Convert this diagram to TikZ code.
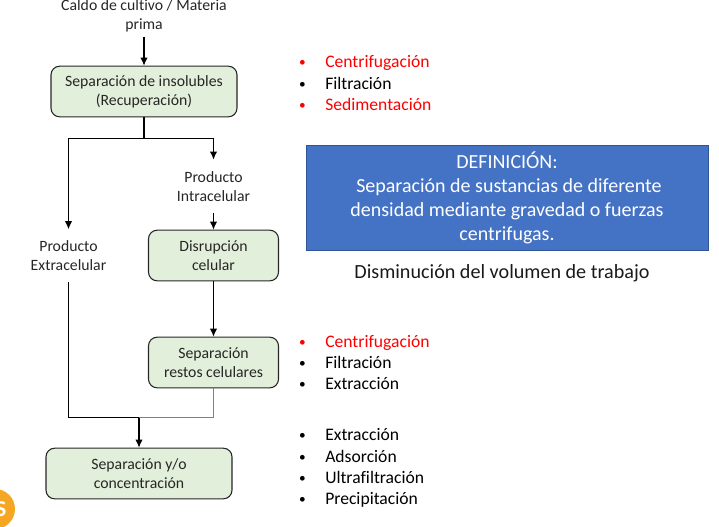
\documentclass[tikz,border=0pt]{standalone}
\usepackage{fontspec}
\setmainfont[Ligatures=CommonOff]{Carlito}
\usetikzlibrary{arrows.meta}
\definecolor{boxgreen}{HTML}{E2EFDA}
\definecolor{defblue}{HTML}{4472C4}
\definecolor{defedge}{HTML}{2F5597}
\definecolor{logoorange}{HTML}{F5A623}
\tikzset{
	stepbox/.style={draw=black!85, fill=boxgreen, rounded corners=6.5pt, line width=0.8pt, align=center, text=black!85, font=\fontsize{11.8}{14.2}\selectfont},
	plain/.style={align=center, text=black!85, font=\fontsize{11.8}{14.2}\selectfont},
	item/.style={anchor=base west, inner sep=0pt, font=\fontsize{13.2}{14}\selectfont},
	dot/.style={anchor=base, inner sep=0pt, font=\fontsize{10}{14}\selectfont},
	link/.style={draw, line width=0.8pt},
	flow/.style={link, -{Latex[length=6pt,width=5.5pt]}},
}
\begin{document}
\begin{tikzpicture}[x=0.75pt, y=-0.75pt]
	\useasboundingbox (0, 0) rectangle (719, 526);
	\clip (0, 0) rectangle (719, 526);
	% flow on the left
	\node[plain] (caldo) at (144, 16) {Caldo de cultivo / Materia\\prima};
	\node[stepbox, minimum width=139.5pt, minimum height=38pt] (insol) at (144, 91.5) {Separación de insolubles\\(Recuperación)};
	\node[plain, minimum height=40pt] (intra) at (213.5, 186.5) {Producto\\Intracelular};
	\node[plain, minimum height=39pt] (extra) at (68.5, 255.5) {Producto\\Extracelular};
	\node[stepbox, minimum width=97.5pt, minimum height=38pt] (disrup) at (213.5, 255.5) {Disrupción\\celular};
	\node[stepbox, minimum width=97.5pt, minimum height=38pt] (restos) at (213.5, 362.5) {Separación\\restos celulares};
	\node[stepbox, minimum width=139.5pt, minimum height=38pt] (conc) at (139, 473.5) {Separación y/o\\concentración};
	\coordinate (fork) at (144, 138.5);
	\coordinate (join) at (139, 417.5);
	\draw[flow] (caldo) -- (insol);
	\draw[link] (insol) -- (fork);
	\draw[flow] (fork) -| (intra);
	\draw[flow] (fork) -| (extra);
	\draw[flow] (intra) -- (disrup);
	\draw[flow] (disrup) -- (restos);
	\draw[link] (extra) |- (join);
	\draw[link, draw=black!50] (restos) |- (join);
	\draw[flow] (join) -- (conc);
	% lists
	\foreach \y/\name/\col in {67/Centrifugación/red, 89/Filtración/black, 110/Sedimentación/red, 347/Centrifugación/red, 368/Filtración/black, 389/Extracción/black, 440/Extracción/black, 462/Adsorción/black, 483/Ultrafiltración/black, 504/Precipitación/black} {
		\node[dot, text=\col] (dot\y) at (302.5, \y-1) {•};
		\node[item, text=\col] (item\y) at (325, \y) {\name};
	}
	% definition
	\node[draw=defedge, fill=defblue, text=white, minimum width=301.5pt, minimum height=78.5pt, align=center, font=\fontsize{15}{18}\selectfont] (defin) at (507, 197.5) {DEFINICIÓN:\\\hspace*{3pt}Separación de sustancias de diferente\\densidad mediante gravedad o fuerzas\\centrifugas.};
	\node[text=black!90, font=\fontsize{15.1}{16}\selectfont] (vol) at (502, 273) {Disminución del volumen de trabajo};
	% logo
	\node[circle, fill=logoorange, minimum size=30pt, inner sep=0pt] (logo) at (-5, 509) {};
	\node[text=white, font=\bfseries\fontsize{17}{17}\selectfont, inner sep=0pt] (logos) at (1, 509) {S};
\end{tikzpicture}
\end{document}
